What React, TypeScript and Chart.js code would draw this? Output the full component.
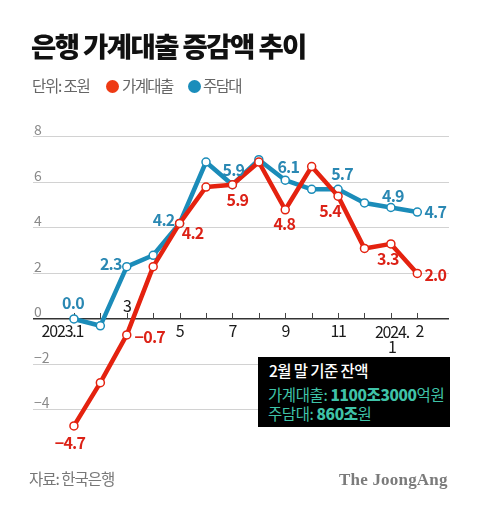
import React, { useEffect, useRef } from "react";
import { Chart, registerables } from "chart.js";

Chart.register(...registerables);

// ---- data ----
const months = ["2023.1", "2", "3", "4", "5", "6", "7", "8", "9", "10", "11", "12", "2024.1", "2"];
const householdLoans = [-4.7, -2.8, -0.7, 2.3, 4.2, 5.8, 5.9, 6.9, 4.8, 6.7, 5.4, 3.1, 3.3, 2.0];
const mortgageLoans = [0.0, -0.3, 2.3, 2.8, 4.2, 6.9, 5.9, 7.0, 6.1, 5.7, 5.7, 5.1, 4.9, 4.7];
const labeledIndices = [0, 2, 4, 6, 8, 10, 12, 13];
const xLabelIndices = [0, 2, 4, 6, 8, 10, 12, 13];
const xLabelTexts = [["2023.1"], ["3"], ["5"], ["7"], ["9"], ["11"], ["2024.", "1"], ["2"]];

// ---- styling / placement (not data) ----
const RED = "#e4220f";
const BLUE = "#1b8cb9";
const RED_TEXT = "#dc2217";
const BLUE_TEXT = "#2a88b3";
const KFONT = '"Noto Sans CJK KR", "Noto Sans", sans-serif';
const redLabelOffsets = [[-4, 17], [23, 2], [13, 9], [5, 15], [-1, 14], [-8, 15], [-3, 15], [18, 1]];
const blueLabelOffsets = [[-1, -16], [-16, -3], [-16, -4], [1, -15], [3, -13], [4, -15], [2, -12], [18, 0]];
const xLabelOffsets = [[-11.5, 12], [0, -13], [0, 12], [0, 12], [0, 12], [0, 12], [1, 13], [2, 12]];

const fmt = (v: number) => (v < 0 ? "\u2212" + Math.abs(v).toFixed(1) : v.toFixed(1));

const overlayPlugin = {
  id: "overlay",
  beforeDatasetsDraw(chart: any) {
    const { ctx, scales } = chart;
    const xs = scales.x;
    const y0 = scales.y.getPixelForValue(0);
    ctx.save();
    ctx.strokeStyle = "#444";
    ctx.lineWidth = 1;
    months.forEach((_, i) => {
      const x = Math.round(xs.getPixelForValue(i)) + 0.5;
      ctx.beginPath();
      ctx.moveTo(x, y0 - 6);
      ctx.lineTo(x, y0);
      ctx.stroke();
    });
    ctx.fillStyle = "#1a1a1a";
    ctx.font = `400 16px ${KFONT}`;
    (ctx as any).letterSpacing = "-1.2px";
    ctx.textAlign = "center";
    ctx.textBaseline = "middle";
    xLabelIndices.forEach((idx, k) => {
      const x = xs.getPixelForValue(idx) + xLabelOffsets[k][0];
      const lines = xLabelTexts[k];
      lines.forEach((t, li) => {
        ctx.fillText(t, x, y0 + xLabelOffsets[k][1] + li * 15);
      });
    });
    ctx.restore();
  },
  afterDatasetsDraw(chart: any) {
    const { ctx, scales } = chart;
    const xs = scales.x;
    const ys = scales.y;
    ctx.save();
    ctx.font = `700 16px ${KFONT}`;
    (ctx as any).letterSpacing = "-0.8px";
    ctx.textAlign = "center";
    ctx.textBaseline = "middle";
    labeledIndices.forEach((idx, k) => {
      ctx.fillStyle = BLUE_TEXT;
      ctx.fillText(
        fmt(mortgageLoans[idx]),
        xs.getPixelForValue(idx) + blueLabelOffsets[k][0],
        ys.getPixelForValue(mortgageLoans[idx]) + blueLabelOffsets[k][1]
      );
      ctx.fillStyle = RED_TEXT;
      ctx.fillText(
        fmt(householdLoans[idx]),
        xs.getPixelForValue(idx) + redLabelOffsets[k][0],
        ys.getPixelForValue(householdLoans[idx]) + redLabelOffsets[k][1]
      );
    });
    ctx.restore();
  },
};

function LoanChart() {
  const ref = useRef<HTMLCanvasElement | null>(null);
  useEffect(() => {
    if (!ref.current) return;
    const chart = new Chart(ref.current, {
      type: "line",
      data: {
        datasets: [
          {
            label: "가계대출",
            data: householdLoans.map((v, i) => ({ x: i, y: v })),
            borderColor: RED,
            borderWidth: 4.5,
            pointRadius: 4,
            pointBorderWidth: 1.5,
            pointBackgroundColor: "#fff",
            pointBorderColor: RED,
            borderJoinStyle: "round",
            tension: 0,
          },
          {
            label: "주담대",
            data: mortgageLoans.map((v, i) => ({ x: i, y: v })),
            borderColor: BLUE,
            borderWidth: 4.5,
            pointRadius: 4,
            pointBorderWidth: 1.5,
            pointBackgroundColor: "#fff",
            pointBorderColor: BLUE,
            borderJoinStyle: "round",
            tension: 0,
          },
        ],
      },
      options: {
        responsive: false,
        animation: false,
        devicePixelRatio: 1,
        layout: { padding: { left: 31, right: 31, top: 125.6, bottom: 51.8 } },
        plugins: { legend: { display: false }, tooltip: { enabled: false } },
        scales: {
          x: { type: "linear", min: -1.55, max: 14.2, display: false },
          y: {
            min: -5.9,
            max: 8.5,
            border: { display: false },
            grid: {
              drawTicks: false,
              color: (c: any) => (c.tick && c.tick.value === 0 ? "#333" : "#d2d2d2"),
              lineWidth: (c: any) => (c.tick && c.tick.value === 0 ? 1.5 : 1),
            },
            ticks: {
              stepSize: 2,
              includeBounds: false,
              mirror: true,
              padding: 1,
              labelOffset: -7,
              color: "#8a8a8a",
              font: { family: KFONT, size: 14 },
              callback: (v: any) => (v < 0 ? "\u2212" + Math.abs(v) : String(v)),
            },
          },
        },
      },
      plugins: [overlayPlugin],
    } as any);
    return () => chart.destroy();
  }, []);
  return (
    <canvas
      ref={ref}
      width={480}
      height={505}
      style={{ position: "absolute", left: 0, top: 0, width: 480, height: 505 }}
    />
  );
}

const abs = (o: React.CSSProperties): React.CSSProperties => ({ position: "absolute", whiteSpace: "nowrap", ...o });

export default function App() {
  return (
    <div style={{ position: "absolute", left: 0, top: 0, width: 480, height: 505, background: "#fff", overflow: "hidden", fontFamily: KFONT }}>
      <LoanChart />
      <div style={abs({ left: 31, top: 30, fontSize: 27.5, lineHeight: "30px", fontWeight: 900, letterSpacing: -1.6, color: "#111" })}>
        은행 가계대출 증감액 추이
      </div>
      <div style={abs({ left: 32, top: 76, fontSize: 15.5, lineHeight: "18px", letterSpacing: -1.2, color: "#666" })}>단위: 조원</div>
      <div style={abs({ left: 106, top: 80, width: 13, height: 13, borderRadius: "50%", background: "#ee3a14" })} />
      <div style={abs({ left: 122, top: 76, fontSize: 15.5, lineHeight: "18px", letterSpacing: -1.6, color: "#666" })}>가계대출</div>
      <div style={abs({ left: 188, top: 80, width: 13, height: 13, borderRadius: "50%", background: "#1a8dbb" })} />
      <div style={abs({ left: 203, top: 76, fontSize: 15.5, lineHeight: "18px", letterSpacing: -1.6, color: "#666" })}>주담대</div>

      <div style={abs({ left: 258, top: 357, width: 192, height: 70, background: "#000" })}>
        <div style={abs({ left: 11, top: 4, fontSize: 15.5, lineHeight: "18px", fontWeight: 500, letterSpacing: -0.6, color: "#fff" })}>
          2월 말 기준 잔액
        </div>
        <div style={abs({ left: 10, top: 28, fontSize: 15.5, lineHeight: "18px", letterSpacing: -0.4, color: "#3fc3a8" })}>
          가계대출: <b style={{ fontWeight: 800 }}>1100조3000</b>억원
        </div>
        <div style={abs({ left: 10, top: 47, fontSize: 15.5, lineHeight: "18px", letterSpacing: -0.4, color: "#3fc3a8" })}>
          주담대: <b style={{ fontWeight: 800 }}>860조</b>원
        </div>
      </div>

      <div style={abs({ left: 29, top: 469, fontSize: 15.5, lineHeight: "18px", letterSpacing: -1, color: "#777" })}>자료: 한국은행</div>
      <div style={abs({ left: 339, top: 470, fontSize: 17, lineHeight: "20px", fontWeight: 700, letterSpacing: 0.2, color: "#7b7b7b", fontFamily: '"Liberation Serif", "DejaVu Serif", serif' })}>
        The JoongAng
      </div>
    </div>
  );
}
